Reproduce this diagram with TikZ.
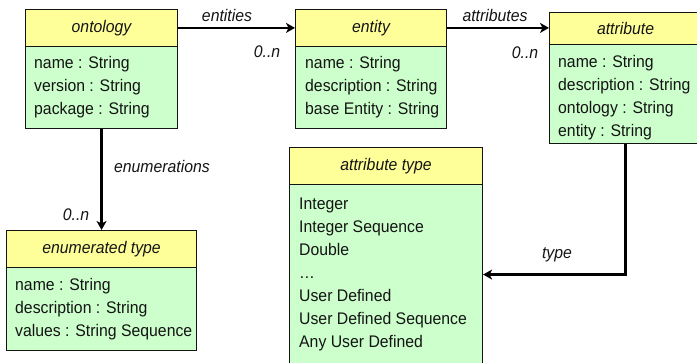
\documentclass[tikz,border=0pt]{standalone}
\usepackage{fontspec}
\setmainfont[FakeStretch=0.94]{Liberation Sans}
\usetikzlibrary{arrows.meta}
\definecolor{headfill}{HTML}{FFFF99}
\definecolor{bodyfill}{HTML}{CCFFCC}
\definecolor{ink}{HTML}{141414}
\tikzset{
  classhead/.style={draw=ink, fill=headfill, line width=1.1pt, inner sep=0pt,
    anchor=north west, font=\fontsize{16.8}{23}\selectfont\itshape, text=ink},
  classbody/.style={draw=ink, fill=bodyfill, line width=1.1pt, inner sep=0pt,
    anchor=north west},
  bodytext/.style={anchor=west, align=left, inner sep=0pt,
    font=\fontsize{16.8}{23}\selectfont, text=ink},
  assoc/.style={draw=black, line width=2.6pt,
    -{Stealth[length=9pt,width=10pt,inset=2.5pt]}},
  rolelabel/.style={font=\fontsize{16.8}{20}\selectfont\itshape, text=ink,
    inner sep=0pt},
}
\begin{document}
\begin{tikzpicture}[x=1pt,y=-1pt]
\useasboundingbox (0,0) rectangle (697,362);
\begin{scope}
\clip (0,0) rectangle (697,362);

% ontology
\node[classhead, minimum width=152pt, minimum height=36.7pt] (onthead) at (25,9) {ontology};
\node[classbody, minimum width=152pt, minimum height=82.3pt] (ontbody) at (25,45.7) {};
\node[bodytext] (onttext) at ([xshift=9pt]ontbody.west) {name : String\\version : String\\package : String};

% entity
\node[classhead, minimum width=151pt, minimum height=36.7pt] (enthead) at (295,9) {entity};
\node[classbody, minimum width=151pt, minimum height=82.3pt] (entbody) at (295,45.7) {};
\node[bodytext] (enttext) at ([xshift=10pt]entbody.west) {name : String\\description : String\\base Entity : String};

% attribute
\node[classhead, minimum width=152pt, minimum height=32pt] (atthead) at (549,12) {attribute};
\node[classbody, minimum width=152pt, minimum height=99pt] (attbody) at (549,44) {};
\node[bodytext] (atttext) at ([xshift=9pt,yshift=-4pt]attbody.west) {name : String\\description : String\\ontology : String\\entity : String};

% enumerated type
\node[classhead, minimum width=190pt, minimum height=37pt] (enumhead) at (6,230) {enumerated type};
\node[classbody, minimum width=190pt, minimum height=83pt] (enumbody) at (6,267) {};
\node[bodytext] (enumtext) at ([xshift=9pt]enumbody.west) {name : String\\description : String\\values : String Sequence};

% attribute type
\node[classhead, minimum width=193pt, minimum height=37pt] (typehead) at (289,147) {attribute type};
\node[classbody, minimum width=193pt, minimum height=180pt] (typebody) at (289,184) {};
\node[bodytext] (typetext) at ([xshift=10pt]typebody.west) {Integer\\Integer Sequence\\Double\\\dots\\User Defined\\User Defined Sequence\\Any User Defined};

% associations
\draw[assoc] (onthead.east) -- (enthead.west);
\draw[assoc] (enthead.east) -- (enthead.east -| atthead.west);
\draw[assoc] (ontbody.south) -- (enumhead.north);
\draw[assoc] (attbody.south) |- (typebody.east);

% role names and multiplicities
\node[rolelabel] (lentities) at (227,15) {entities};
\node[rolelabel] (mentities) at (267,52) {0..n};
\node[rolelabel] (lattributes) at (495,15) {attributes};
\node[rolelabel] (mattributes) at (525,53) {0..n};
\node[rolelabel] (lenum) at (162,166) {enumerations};
\node[rolelabel] (menum) at (76,215) {0..n};
\node[rolelabel] (ltype) at (557,255) {type};
\end{scope}
\end{tikzpicture}
\end{document}
